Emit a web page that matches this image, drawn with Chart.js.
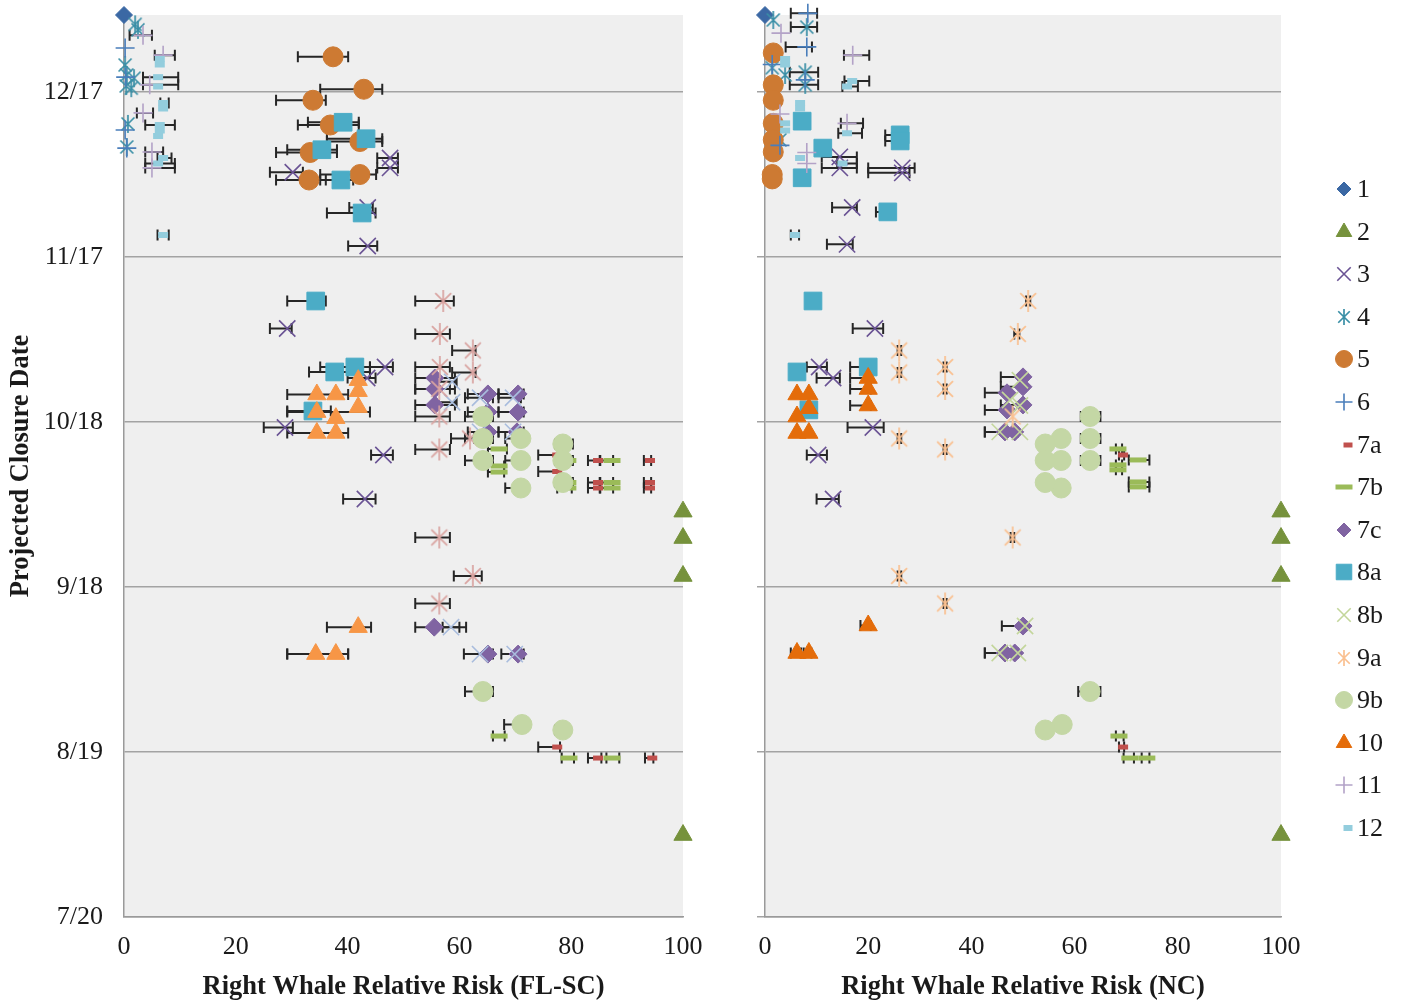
<!DOCTYPE html>
<html>
<head>
<meta charset="utf-8">
<script src="https://cdn.jsdelivr.net/npm/chart.js@4.4.0/dist/chart.umd.min.js"></script>
<style>
  body { margin: 0; background: #fff; width: 1402px; height: 1004px; position: relative; overflow: hidden; }
  canvas { position: absolute; top: 0; }
  #flsc { left: 0; }
  #nc { left: 700px; }
  .key { position: absolute; font-family: "Liberation Serif", serif; font-size: 26px; color: #1a1a1a; line-height: 30px; }
  .mark { position: absolute; }
</style>
</head>
<body>
<canvas id="flsc" width="730" height="1004"></canvas>
<canvas id="nc" width="600" height="1004"></canvas>
<div id="legend"></div>
<script>
// series names, axis ticks
const seriesNames = ['1', '2', '3', '4', '5', '6', '7a', '7b', '7c', '8a', '8b', '9a', '9b', '10', '11', '12'];
const dayTicks = [0, 30, 60, 90, 120, 150];          // days after 7/20
const dateLabels = ['7/20', '8/19', '9/18', '10/18', '11/17', '12/17'];
const riskTicks = [0, 20, 40, 60, 80, 100];
const lastDay = 164;                                  // 12/31

// [relative risk, closure day, error low, error high]
const s1FL = [[0, 164]];
const s1NC = [[0, 164]];
const s2FL = [[100, 73.7], [100, 68.9], [100, 62], [100, 14.9]];
const s2NC = [[100, 73.7], [100, 68.9], [100, 62], [100, 14.9]];
const s3FL = [[30.2, 135.4, 26.1, 32], [47.6, 138, 45.3, 49], [47.6, 136.2, 45.3, 49], [43.6, 129, 40.3, 44.5],
  [43.6, 122, 40.1, 45.3], [29.2, 107, 26.1, 30], [46.7, 100, 44, 48.1], [43.5, 98, 40, 45],
  [28.8, 89, 25, 30.2], [46.4, 84, 44.2, 48.1], [43.1, 76, 39.2, 45]];
const s3NC = [[14.5, 138.2, 11, 17.8], [14.5, 136.2, 11, 17.8], [26.6, 136.2, 20, 29], [26.6, 135.3, 20, 28],
  [16.9, 129, 13, 17.8], [15.9, 122.3, 12, 17], [21.3, 107, 17, 22.9], [10.5, 100, 8.1, 12],
  [13.2, 98, 10, 14.5], [20.9, 89, 16, 23], [10.3, 84, 8.1, 12], [13.2, 76, 10, 14.3]];
const s4FL = [[2, 162.3], [2.5, 161.3], [0.2, 154.9], [0.5, 153.1], [1.8, 152.5], [0.4, 151.1], [1.3, 150.7],
  [0.7, 144.2], [0.5, 140]];
const s4NC = [[1.6, 163.1], [8.1, 161.8, 5, 10.1], [1.4, 154.4], [3.9, 153.1], [7.8, 153.6, 4.8, 10.3],
  [7.8, 151.3, 4.8, 10.3], [2.9, 141.3]];
const s5FL = [[37.4, 156.4, 31.1, 40.1], [42.9, 150.5, 35.1, 46.2], [33.8, 148.5, 27.2, 36.1], [36.9, 144, 31.1, 42],
  [42.2, 141, 36.3, 46.2], [33.3, 139, 27.2, 38.1], [33.1, 134, 27.2, 36.1], [42.2, 135, 35.1, 45.1]];
const s5NC = [[1.6, 157.1], [1.6, 151.3], [1.6, 148.5], [1.6, 144.3], [1.6, 141.3], [1.6, 139.1], [1.4, 135], [1.4, 134.2]];
const s6FL = [[0.2, 158], [0.3, 152.7], [0.2, 143.1], [0.5, 139.8]];
const s6NC = [[8.3, 164.3, 5, 10.1], [8.1, 158.2, 4, 9.1], [1.4, 155], [7.8, 152.2], [2.9, 140.3]];
const s7aFL = [[77.5, 84, 74.1, 78], [77.5, 81, 74.1, 78], [84.8, 83, 83, 85.1], [94.1, 83, 93, 94.3],
  [84.8, 79, 83, 85.1], [84.8, 78, 83, 85.1], [94.1, 79, 93, 94.3], [94.1, 78, 93, 94.3],
  [77.5, 30.9, 74.1, 78], [84.8, 28.9, 83, 85.4], [94.5, 28.9, 93.2, 94.7]];
const s7aNC = [[69.4, 84, 68.6, 69.6], [69.4, 30.9, 68.6, 69.6]];
const s7bFL = [[67.1, 85.1, 65.1, 68.5], [67.1, 82, 65.1, 68], [67.1, 80.9, 65.1, 68], [79.4, 83, 77.5, 80.1],
  [87.3, 83, 85.2, 87.5], [79.4, 79, 77.5, 80.1], [79.4, 78, 77.5, 80.1], [87.3, 79, 85.2, 87.5],
  [87.3, 78, 85.2, 87.5], [67.1, 32.9, 66, 68.1], [79.6, 28.9, 78.3, 80.5], [87.3, 28.9, 86.3, 88.6]];
const s7bNC = [[68.4, 85.1, 68, 69.2], [68.4, 82.2, 68, 69.2], [68.4, 81.3, 68, 69.2], [72.3, 83.1, 70.5, 74.5],
  [72.3, 79.1, 70.5, 74.5], [72.3, 78.2, 70.5, 74.5], [68.6, 32.9, 68, 69.5], [70.7, 28.9, 69.5, 71.5], [74, 28.9, 73, 74.5]];
const s7cFL = [[55.6, 98, 52.1, 59.2], [55.6, 96, 52.1, 59.2], [55.6, 93.1, 52.1, 59.2], [65.1, 95.1, 61.5, 67],
  [70.5, 95.1, 67, 71.5], [65.1, 91.8, 61.5, 67], [70.5, 91.8, 67, 71.5], [65.1, 88.2, 61.5, 67],
  [70.3, 88.2, 67, 71.5], [55.5, 52.7, 52.1, 60], [65.1, 47.8, 60.8, 66], [70.5, 47.8, 67.5, 71.5]];
const s7cNC = [[50, 98.2, 45.7, 50.5], [50, 96.4, 45.7, 50.5], [50, 93.1, 45.7, 50.5], [46.9, 95.3, 42.6, 47.5],
  [46.9, 92.2, 42.6, 47.5], [46.5, 88.2, 42.6, 47], [48.4, 88.2, 42.6, 49], [50, 52.9, 45.9, 50.6],
  [46.5, 48, 42.6, 47], [48.4, 48, 42.6, 49]];
const s8aFL = [[39.2, 144.5, 32.9, 42], [43.3, 141.5, 36.3, 46.2], [35.4, 139.5, 29.2, 38.1], [38.8, 134, 35.1, 41],
  [42.6, 128, 36.3, 45], [34.3, 112, 29.2, 36.1], [41.3, 100, 35.1, 44], [37.7, 99.1, 33.1, 44], [33.8, 92, 29.2, 37]];
const s8aNC = [[7.2, 144.7], [11.2, 139.8], [7.2, 134.4], [26.2, 142.2, 23.3, 26.5], [26.2, 141.1, 23.3, 26.5],
  [23.8, 128.2, 21.5, 24], [9.3, 112], [6.2, 99.1], [8.5, 92.2], [20, 100, 16.5, 20.2]];
const s8bFL = [[58.7, 97.3, 55.5, 59.5], [58.7, 93.6, 55.5, 59.5], [63.7, 94.4, 61, 66], [69.6, 94.4, 67, 71],
  [63.7, 88.2], [69.6, 88.2], [58.5, 52.7, 57, 61.2], [63.7, 47.8], [69.9, 47.8]];
const s8bNC = [[49.4, 97.6], [47.5, 94], [49.4, 93], [45.5, 88.2], [49.4, 88.2], [50.4, 52.9], [45.5, 48], [49, 48]];
const s9aFL = [[57.1, 112, 52.1, 59], [56.5, 106, 52.1, 58.3], [62.4, 103, 58.7, 62.9], [56.5, 100, 52.1, 58.3],
  [62.4, 99, 58.7, 62.9], [56.4, 96, 52.1, 58.3], [56.4, 91, 52.1, 58.3], [61.9, 87, 58.5, 62.7],
  [56.4, 85, 52.1, 58.3], [56.4, 69, 52.1, 58.3], [62.4, 62, 59, 64], [56.4, 57, 52.1, 58.3]];
const s9aNC = [[51, 112, 50.6, 51.4], [49, 106, 48.3, 49.3], [26, 103, 25.7, 26.4], [26, 99, 25.7, 26.4],
  [34.9, 100, 34.6, 35.2], [34.9, 96, 34.6, 35.2], [26, 87, 25.7, 26.4], [34.9, 85, 34.6, 35.2],
  [48, 91], [48, 69, 47.6, 48.3], [26, 62, 25.7, 26.4], [34.9, 57, 34.6, 35.2]];
const s9bFL = [[64.2, 91, 61, 66], [64.2, 87, 61, 66], [71, 87, 68.2, 71.2], [64.2, 83, 61, 66], [71, 83, 68.2, 71.2],
  [71, 78, 68.2, 71.2], [78.5, 86, 77.1, 80.3], [78.5, 83, 77.1, 80.3], [78.5, 79, 77.1, 80.3],
  [64.2, 41, 61, 66], [71.2, 35, 68, 71.5], [78.5, 34, 77.1, 78.5]];
const s9bNC = [[63, 91, 61.2, 65], [63, 87, 61.2, 65], [63, 83, 61.2, 65], [57.4, 87], [57.4, 83], [57.4, 78],
  [54.3, 86, 53.5, 54.5], [54.3, 83, 53.5, 54.5], [54.3, 79, 53.5, 54.5], [63, 41, 60.7, 65], [57.6, 35], [54.3, 34, 53.5, 55]];
const s10FL = [[41.9, 97.6], [41.9, 95.6], [41.9, 92.7], [37.9, 95], [34.5, 95, 29.2, 40.1], [34.5, 91.8, 29.2, 44],
  [37.9, 90.7], [34.5, 88, 29.2, 40.1], [37.9, 88], [41.9, 52.7, 36.3, 44.2], [34.3, 47.8, 29.2, 40.1], [37.9, 47.8, 29.2, 40.1]];
const s10NC = [[6.2, 95], [8.5, 95], [6.2, 91], [8.5, 92.5], [6.2, 88], [8.5, 88], [20, 98, 16.5, 20.5],
  [20, 96, 16.5, 20.5], [20, 93, 16.5, 20.5], [20, 53, 18.5, 20.5], [6.2, 48, 5, 7], [8.5, 48, 7.5, 9]];
const s11FL = [[3.4, 160.3, 1, 5], [7, 156.7, 5.5, 9.1], [4.6, 151.3, 3.4, 9.7], [3.4, 146.2, 2.3, 5.2],
  [5, 139.1, 3.8, 7], [5, 136.2, 3.8, 9.1]];
const s11NC = [[3.1, 160.7], [17, 156.7, 15.3, 20.2], [2.9, 146], [15.9, 144.3, 14.7, 19], [8.1, 139], [8.1, 137]];
const s12FL = [[6.4, 156], [6.4, 155], [6.1, 152.7, 3.4, 9.7], [6.1, 151], [7, 148, 6.5, 8], [7, 147],
  [6.4, 144, 3.8, 9.1], [6.4, 143], [6.1, 142], [7, 138, 6, 8.5], [6.1, 137, 3.8, 9.1], [7, 124, 6, 8]];
const s12NC = [[3.9, 156], [3.9, 155], [16.9, 152, 15.4, 20.2], [15.9, 151, 15, 18], [6.8, 148], [6.8, 147],
  [3.9, 144.3], [3.9, 143], [15.9, 142.5, 14.2, 18.8], [6.8, 138], [15, 137, 14, 17.8], [5.8, 124, 5, 6.6]];

const flscSeries = [s1FL, s2FL, s3FL, s4FL, s5FL, s6FL, s7aFL, s7bFL, s7cFL, s8aFL, s8bFL, s9aFL, s9bFL, s10FL, s11FL, s12FL];
const ncSeries = [s1NC, s2NC, s3NC, s4NC, s5NC, s6NC, s7aNC, s7bNC, s7cNC, s8aNC, s8bNC, s9aNC, s9bNC, s10NC, s11NC, s12NC];

// marker look per series; fl / nc colours differ for a few series
function asterisk(color, size) {
  const c = document.createElement('canvas');
  c.width = c.height = size;
  const g = c.getContext('2d');
  const m = size / 2, r = size / 2 - 1, d = r * 0.72;
  g.strokeStyle = color; g.lineWidth = 1.7;
  g.beginPath();
  g.moveTo(m, m - r); g.lineTo(m, m + r);
  g.moveTo(m - d, m - d); g.lineTo(m + d, m + d);
  g.moveTo(m + d, m - d); g.lineTo(m - d, m + d);
  g.stroke();
  return c;
}

const styles = [
  { shape: 'rectRot', r: 8.5, fl: '#3B68A4', nc: '#3B68A4', lr: 7 },
  { shape: 'triangle', r: 10.5, fl: '#76923C', nc: '#76923C', lr: 9 },
  { shape: 'crossRot', r: 11.5, fl: '#6A5394', nc: '#6A5394', bw: 1.6, lr: 9.5 },
  { shape: 'star', r: 10, fl: '#3A8FA6', nc: '#3A8FA6', lr: 9 },
  { shape: 'circle', r: 10, fl: '#CD7A33', nc: '#CD7A33', lr: 8.5 },
  { shape: 'cross', r: 9.5, fl: '#4A7EBB', nc: '#4A7EBB', bw: 1.6, lr: 8.5 },
  { shape: 'line', r: 5, fl: '#C0504D', nc: '#C0504D', bw: 5, lr: 4.5 },
  { shape: 'line', r: 8.5, fl: '#9BBB59', nc: '#9BBB59', bw: 5, lr: 8.5 },
  { shape: 'rectRot', r: 9, fl: '#8064A2', nc: '#8064A2', lr: 7 },
  { shape: 'rect', r: 12.5, fl: '#4BACC6', nc: '#4BACC6', lr: 11 },
  { shape: 'crossRot', r: 11.5, fl: '#A8BCDD', nc: '#C3D69B', bw: 1.6, lr: 9.5 },
  { shape: 'star', r: 12, fl: '#D9A3A0', nc: '#FAC090', lr: 9 },
  { shape: 'circle', r: 10, fl: '#C4D7A5', nc: '#C4D7A5', lr: 8.5 },
  { shape: 'triangle', r: 10.5, fl: '#F79646', nc: '#E46C0A', lr: 9 },
  { shape: 'cross', r: 9.5, fl: '#B3A2C7', nc: '#B3A2C7', bw: 1.6, lr: 8.5 },
  { shape: 'line', r: 5, fl: '#93CDDD', nc: '#93CDDD', bw: 6, lr: 4.5 }
];

function pointStyleFor(st, color, r) {
  return st.shape === 'star' ? asterisk(color, Math.round(r * 2)) : st.shape;
}

const plotBg = {
  id: 'plotBg',
  beforeDraw(chart) {
    const { ctx, chartArea: a } = chart;
    ctx.save();
    ctx.fillStyle = '#EFEFEF';
    ctx.fillRect(a.left, a.top, a.width, a.height);
    ctx.restore();
  }
};

const errorBars = {
  id: 'errorBars',
  beforeDatasetsDraw(chart) {
    const { ctx, scales: { x, y } } = chart;
    ctx.save();
    ctx.strokeStyle = '#262626';
    ctx.lineWidth = 2;
    chart.data.datasets.forEach(ds => {
      ds.data.forEach(p => {
        if (p.lo === undefined) return;
        const yp = y.getPixelForValue(p.y);
        const x0 = x.getPixelForValue(p.lo), x1 = x.getPixelForValue(p.hi);
        ctx.beginPath();
        ctx.moveTo(x0, yp); ctx.lineTo(x1, yp);
        ctx.moveTo(x0, yp - 5.5); ctx.lineTo(x0, yp + 5.5);
        ctx.moveTo(x1, yp - 5.5); ctx.lineTo(x1, yp + 5.5);
        ctx.stroke();
      });
    });
    ctx.restore();
  }
};

function toPoints(rows) {
  return rows.map(r => r.length > 2 ? { x: r[0], y: r[1], lo: r[2], hi: r[3] } : { x: r[0], y: r[1] });
}

function datasetsFor(series, panel) {
  return series.map((rows, i) => {
    const st = styles[i];
    const color = st[panel];
    return {
      label: seriesNames[i],
      data: toPoints(rows),
      pointStyle: pointStyleFor(st, color, st.r),
      pointRadius: st.r,
      pointHoverRadius: st.r,
      pointBorderWidth: st.bw || 1,
      backgroundColor: color,
      borderColor: color,
      showLine: false,
      clip: false,
      order: seriesNames.length - i
    };
  });
}

const serif = 'Liberation Serif';

function makeChart(id, series, panel, xTitle, leftWidth, padRight, showDates) {
  return new Chart(document.getElementById(id), {
    type: 'scatter',
    data: { datasets: datasetsFor(series, panel) },
    options: {
      responsive: false,
      animation: false,
      events: [],
      layout: { padding: { top: 15, right: padRight, left: 0, bottom: 0 } },
      plugins: { legend: { display: false }, tooltip: { enabled: false } },
      scales: {
        x: {
          type: 'linear', min: 0, max: 100,
          afterBuildTicks: s => { s.ticks = riskTicks.map(v => ({ value: v })); },
          afterFit: s => { s.height = 87; s.paddingLeft = 0; s.paddingRight = 0; },
          grid: { color: 'rgba(0,0,0,0)', drawTicks: false },
          border: { color: '#9A9A9A', width: 1.5 },
          ticks: { padding: 15, color: '#1a1a1a', font: { family: serif, size: 26 } },
          title: {
            display: true, text: xTitle, color: '#1a1a1a',
            font: { family: serif, size: 26.5, weight: 'bold' }, padding: { top: 0, bottom: 1 }
          }
        },
        y: {
          type: 'linear', min: 0, max: lastDay,
          afterBuildTicks: s => { s.ticks = dayTicks.map(v => ({ value: v })); },
          afterFit: s => { s.width = leftWidth; s.paddingTop = 0; s.paddingBottom = 0; },
          grid: { color: '#A3A3A3', lineWidth: 1.5, drawTicks: !showDates, tickLength: 8 },
          border: { color: '#9A9A9A', width: 1.5 },
          ticks: {
            display: showDates, padding: 21, color: '#1a1a1a', font: { family: serif, size: 26 },
            callback: v => dateLabels[dayTicks.indexOf(v)]
          },
          title: {
            display: showDates, text: 'Projected Closure Date', color: '#1a1a1a',
            font: { family: serif, size: 26.5, weight: 'bold' }, padding: { top: 5, bottom: 0 }
          }
        }
      }
    },
    plugins: [plotBg, errorBars]
  });
}

makeChart('flsc', flscSeries, 'fl', 'Right Whale Relative Risk (FL-SC)', 124, 47, true);
makeChart('nc', ncSeries, 'nc', 'Right Whale Relative Risk (NC)', 65, 19, false);

// legend: marker drawn with Chart.js point helper, label as text
const legend = document.getElementById('legend');
seriesNames.forEach((name, i) => {
  const st = styles[i];
  const cy = 189 + i * 42.6;
  const c = document.createElement('canvas');
  c.width = 30; c.height = 30;
  c.className = 'mark';
  c.style.left = (1344 - 15) + 'px';
  c.style.top = (cy - 15) + 'px';
  const g = c.getContext('2d');
  g.fillStyle = st.nc; g.strokeStyle = st.nc; g.lineWidth = st.bw || 1;
  const dx = st.shape === 'line' && st.r < 6 ? 4 : 0;
  Chart.helpers.drawPoint(g, { pointStyle: pointStyleFor(st, st.nc, st.lr), radius: st.lr, borderWidth: st.bw || 1, rotation: 0 }, 15 + dx, 15);
  legend.appendChild(c);
  const t = document.createElement('div');
  t.className = 'key';
  t.textContent = name;
  t.style.left = '1357px';
  t.style.top = (cy - 15) + 'px';
  legend.appendChild(t);
});
</script>
</body>
</html>
